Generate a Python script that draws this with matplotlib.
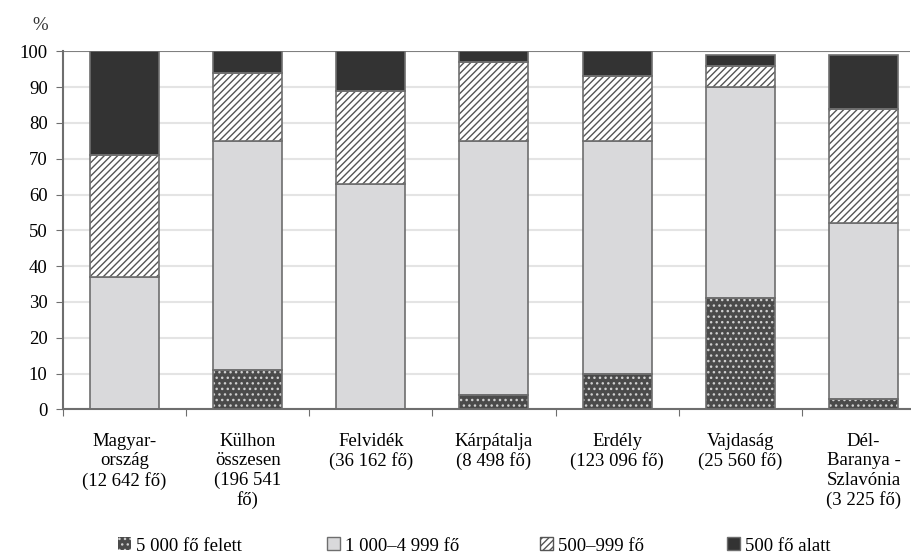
import matplotlib.pyplot as plt
from matplotlib.patches import Patch
import numpy as np

plt.rcParams['font.family'] = ['Liberation Serif', 'DejaVu Serif']
plt.rcParams['hatch.linewidth'] = 1.0

# Adatok (százalék)
categories = ['Magyar-\nország\n(12 642 fő)', 'Külhon\nösszesen\n(196 541\nfő)',
              'Felvidék\n(36 162 fő)', 'Kárpátalja\n(8 498 fő)', 'Erdély\n(123 096 fő)',
              'Vajdaság\n(25 560 fő)', 'Dél-\nBaranya -\nSzlavónia\n(3 225 fő)']
over_5000 = [0, 11, 0, 4, 10, 31, 3]
from_1000 = [37, 64, 63, 71, 65, 59, 49]
from_500 = [34, 19, 26, 22, 18, 6, 32]
under_500 = [29, 6, 11, 3, 7, 3, 15]
series_labels = ['5 000 fő felett', '1 000–4 999 fő', '500–999 fő', '500 fő alatt']

fig = plt.figure(figsize=(9.12, 5.57), dpi=100)
ax = fig.add_axes([0.069, 0.265, 0.929, 0.643])

x = np.arange(len(categories))
w = 0.56
edge = '#6e6e6e'

b1 = np.array(over_5000)
b2 = b1 + np.array(from_1000)
b3 = b2 + np.array(from_500)

# pontozott: sötét alap, világos pontok
ax.bar(x, over_5000, w, color='#4a4a4a', edgecolor='#cfcfcf', hatch='...', linewidth=0, zorder=3)
ax.bar(x, over_5000, w, fill=False, edgecolor=edge, linewidth=1.2, zorder=4)
ax.bar(x, from_1000, w, bottom=b1, color='#d9d9db', edgecolor=edge, linewidth=1.2, zorder=3)
ax.bar(x, from_500, w, bottom=b2, color='white', edgecolor='#555555', hatch='/////', linewidth=0, zorder=3)
ax.bar(x, from_500, w, bottom=b2, fill=False, edgecolor=edge, linewidth=1.2, zorder=4)
ax.bar(x, under_500, w, bottom=b3, color='#333333', edgecolor=edge, linewidth=1.2, zorder=3)

ax.set_ylim(0, 100)
ax.set_xlim(-0.5, 6.38)
ax.set_yticks(range(0, 101, 10))
ax.yaxis.grid(True, color='#e4e4e4', linewidth=1.5, zorder=0)
ax.set_axisbelow(True)

ax.set_xticks(np.arange(-0.5, 6.5, 1.0))
ax.set_xticklabels([])
ax.set_xticks(x, minor=True)
ax.set_xticklabels(categories, minor=True, fontsize=13.5, va='top', linespacing=1.18)
ax.tick_params(axis='x', which='minor', length=0, pad=17)
ax.tick_params(axis='x', which='major', length=5, color='#6e6e6e', direction='out')
ax.tick_params(axis='y', labelsize=13.5, length=5, color='#6e6e6e', pad=6)

for s in ['top', 'right']:
    ax.spines[s].set_visible(False)
for s in ['left', 'bottom']:
    ax.spines[s].set_color('#6e6e6e')
    ax.spines[s].set_linewidth(1.5)
ax.axhline(100, color='#808080', linewidth=1.5, zorder=1)

fig.text(0.044, 0.955, '%', fontsize=13.5, ha='center', va='center', color='#333333')

handles = [Patch(facecolor='#4a4a4a', edgecolor='#cfcfcf', hatch='...', linewidth=0),
           Patch(facecolor='#d9d9db', edgecolor=edge),
           Patch(facecolor='white', edgecolor='#555555', hatch='/////'),
           Patch(facecolor='#333333', edgecolor=edge)]
# a jelmagyarázat elemei külön-külön, az eredeti elrendezés szerint
legend_x = [118, 327, 540, 727]
for h, lab, lx in zip(handles, series_labels, legend_x):
    fig.legend([h], [lab], loc='center left', frameon=False, fontsize=13.5,
               bbox_to_anchor=(lx / 912, 1 - 546 / 557), borderpad=0, borderaxespad=0,
               handlelength=0.68, handleheight=0.68, handletextpad=0.3)

fig.savefig('out.png', dpi=100)
